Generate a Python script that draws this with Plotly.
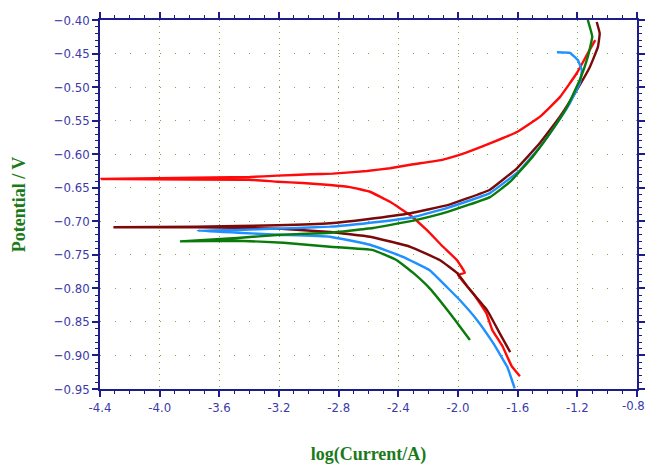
import plotly.graph_objects as go

# Red curve (cathodic branch from bottom up to Ecorr, spike, anodic branch up)
red_x = [-1.585, -1.64, -1.70, -1.77, -1.81, -1.90, -2.00, -1.954, -2.007, -2.10, -2.21, -2.32, -2.456,
         -2.59, -2.725, -2.858, -3.04, -3.21, -3.40, -4.39,
         -3.395, -3.21, -2.99, -2.84, -2.61, -2.456, -2.30, -2.10, -1.95, -1.786, -1.605, -1.45, -1.317,
         -1.203, -1.136, -1.08]
red_y = [-0.931, -0.916, -0.887, -0.862, -0.837, -0.807, -0.780, -0.777, -0.758, -0.738, -0.713, -0.691, -0.671,
         -0.656, -0.649, -0.646, -0.643, -0.641, -0.638, -0.637,
         -0.634, -0.632, -0.630, -0.629, -0.625, -0.621, -0.615, -0.608, -0.598, -0.584, -0.567, -0.544, -0.515,
         -0.479, -0.452, -0.430]

maroon_x = [-1.65, -1.72, -1.806, -1.92, -2.007, -2.12, -2.32, -2.59, -2.858, -3.21, -3.75, -4.31,
            -3.75, -3.21, -2.858, -2.61, -2.32, -2.07, -1.94, -1.786, -1.605, -1.45, -1.317, -1.203,
            -1.116, -1.062, -1.05, -1.07]
maroon_y = [-0.895, -0.867, -0.832, -0.802, -0.777, -0.758, -0.738, -0.723, -0.716, -0.711, -0.709, -0.709,
            -0.708, -0.706, -0.703, -0.697, -0.688, -0.676, -0.666, -0.653, -0.621, -0.583, -0.544, -0.504,
            -0.470, -0.440, -0.420, -0.403]

blue_x = [-1.62, -1.67, -1.766, -1.873, -1.99, -2.075, -2.19, -2.37, -2.59, -2.858, -3.21, -3.48, -3.745,
          -3.48, -3.21, -2.858, -2.54, -2.30, -2.07, -1.786, -1.585, -1.45, -1.337, -1.25, -1.183,
          -1.17, -1.196, -1.25, -1.337]
blue_y = [-0.949, -0.917, -0.881, -0.847, -0.817, -0.798, -0.773, -0.753, -0.735, -0.723, -0.720, -0.717, -0.714,
          -0.713, -0.711, -0.708, -0.701, -0.694, -0.680, -0.658, -0.624, -0.589, -0.554, -0.524, -0.494,
          -0.475, -0.460, -0.449, -0.448]

green_x = [-1.92, -2.034, -2.19, -2.30, -2.41, -2.57, -2.858, -3.17, -3.48, -3.864,
           -3.48, -3.19, -2.858, -2.57, -2.30, -2.07, -1.786, -1.65, -1.50, -1.384, -1.27, -1.183,
           -1.13, -1.10, -1.13]
green_y = [-0.877, -0.843, -0.800, -0.777, -0.758, -0.743, -0.738, -0.732, -0.729, -0.730,
           -0.725, -0.720, -0.717, -0.710, -0.699, -0.686, -0.664, -0.641, -0.604, -0.569, -0.530, -0.489,
           -0.455, -0.425, -0.400]

x_tick_vals = [-4.4, -4.0, -3.6, -3.2, -2.8, -2.4, -2.0, -1.6, -1.2, -0.8]
x_tick_labels = ["-4.4", "-4.0", "-3.6", "-3.2", "-2.8", "-2.4", "-2.0", "-1.6", "-1.2", "-0.8"]

series = [
    (red_x, red_y, "#ff0a0a"),
    (maroon_x, maroon_y, "#7a0a0a"),
    (blue_x, blue_y, "#1e90ff"),
    (green_x, green_y, "#0a7a0a"),
]

fig = go.Figure()
for xs, ys, col in series:
    fig.add_trace(go.Scatter(x=xs, y=ys, mode="lines",
                             line=dict(color=col, width=2.4, shape="spline", smoothing=0.3),
                             showlegend=False, hoverinfo="skip"))

axis_col = "#1c1c8c"
tick_font = dict(family="Liberation Sans Narrow, DejaVu Sans Condensed, sans-serif", size=13, color="#3a3aa8")
title_font = dict(family="Liberation Serif, Times New Roman, serif", size=18, color="#1a7a1a")

# last x tick label is placed as an annotation so it stays inside the page
shown_labels = x_tick_labels[:-1] + [""]
fig.add_annotation(x=x_tick_vals[-1], xref="x", y=0, yref="paper", yanchor="top",
                   xanchor="center", xshift=-4, yshift=-7, showarrow=False,
                   text=x_tick_labels[-1], font=tick_font)

fig.update_layout(
    width=648, height=465,
    margin=dict(l=100, r=11, t=20, b=76, autoexpand=False),
    paper_bgcolor="white", plot_bgcolor="white",
    xaxis=dict(range=[-4.4, -0.8], tickvals=x_tick_vals, ticktext=shown_labels, automargin=False,
               showline=True, linecolor=axis_col, linewidth=1.5, mirror="ticks",
               ticks="outside", ticklen=6, tickcolor=axis_col, tickwidth=1.5,
               minor=dict(ticks="outside", ticklen=3, dtick=0.1, tick0=-4.4, tickcolor=axis_col, tickwidth=1,
                          showgrid=False),
               showgrid=True, gridcolor="#7aaa44", gridwidth=1, griddash="1px,5px",
               zeroline=False, tickfont=tick_font,
               title=dict(text="<b>log(Current/A)</b>", font=title_font, standoff=34)),
    yaxis=dict(range=[-0.95, -0.40], tick0=-0.95, dtick=0.05, tickformat=".2f", automargin=False,
               ticklabeloverflow="allow",
               showline=True, linecolor=axis_col, linewidth=1.5, mirror="ticks",
               ticks="outside", ticklen=6, tickcolor=axis_col, tickwidth=1.5,
               minor=dict(ticks="outside", ticklen=3, dtick=0.01, tickcolor=axis_col, tickwidth=1, showgrid=False),
               showgrid=True, gridcolor="#7aaa44", gridwidth=1, griddash="1px,13.9px",
               zeroline=False, tickfont=tick_font,
               title=dict(text="<b>Potential / V</b>", font=title_font, standoff=24)),
)

fig.write_html("out.html")
